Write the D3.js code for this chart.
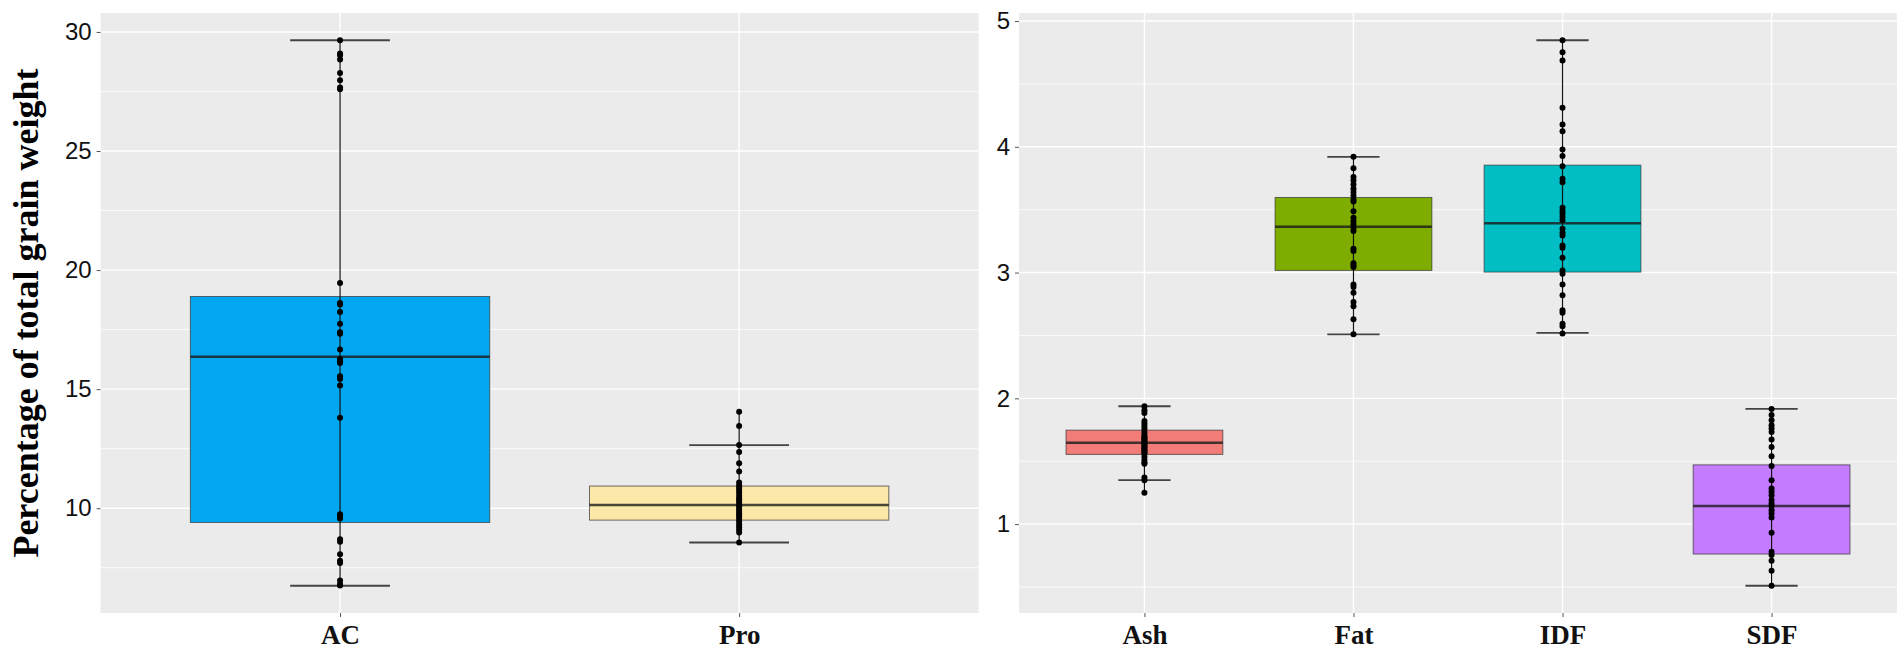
<!DOCTYPE html>
<html>
<head>
<meta charset="utf-8">
<script src="https://cdn.jsdelivr.net/npm/d3@7"></script>
<style>
body { margin: 0; background: #fff; }
</style>
</head>
<body>
<svg id="chart" width="1902" height="651"></svg>
<script>
// left panel: categories and box stats
var leftCats = ['AC', 'Pro']
var leftQ1 = [9.40, 9.50]
var leftMed = [16.36, 10.14]
var leftQ3 = [18.89, 10.93]
var leftLo = [6.745, 8.56]
var leftHi = [29.65, 12.65]
var leftColors = ['#02a7ef', '#fce8a8']
var leftTicks = [10, 15, 20, 25, 30]

var acPts = [29.65, 29.09, 29.02, 28.84, 28.28, 27.97, 27.67, 27.59, 19.46, 18.62, 18.55, 18.24, 17.75, 17.39, 17.33, 16.66, 16.27, 16.17, 16.10, 15.54, 15.43, 15.15, 13.80, 9.75, 9.68, 9.57, 8.70, 8.59, 8.07, 7.79, 7.70, 6.96, 6.82, 6.75]
var proPts = [14.05, 13.45, 12.65, 12.36, 11.89, 11.54, 11.08, 10.95, 10.86, 10.77, 10.65, 10.52, 10.42, 10.33, 10.24, 10.15, 10.06, 9.97, 9.88, 9.79, 9.70, 9.61, 9.52, 9.42, 9.31, 9.20, 9.10, 8.98, 8.56]

// right panel
var rightCats = ['Ash', 'Fat', 'IDF', 'SDF']
var rightQ1 = [1.554, 3.017, 3.004, 0.762]
var rightMed = [1.646, 3.365, 3.393, 1.143]
var rightQ3 = [1.747, 3.597, 3.854, 1.471]
var rightLo = [1.349, 2.509, 2.520, 0.510]
var rightHi = [1.937, 3.920, 4.847, 1.916]
var rightColors = ['#f27d78', '#7ead00', '#00bec4', '#c57bfd']
var rightTicks = [1, 2, 3, 4, 5]

var ashPts = [1.937, 1.905, 1.884, 1.82, 1.80, 1.78, 1.76, 1.74, 1.72, 1.70, 1.69, 1.68, 1.67, 1.66, 1.65, 1.64, 1.63, 1.62, 1.61, 1.60, 1.59, 1.58, 1.57, 1.56, 1.535, 1.51, 1.49, 1.48, 1.371, 1.349, 1.249]
var fatPts = [3.920, 3.830, 3.759, 3.732, 3.70, 3.666, 3.640, 3.613, 3.581, 3.566, 3.488, 3.436, 3.409, 3.383, 3.357, 3.330, 3.190, 3.171, 3.075, 3.057, 3.044, 2.906, 2.885, 2.840, 2.766, 2.732, 2.628, 2.509]
var idfPts = [4.847, 4.752, 4.686, 4.310, 4.177, 4.124, 3.979, 3.926, 3.846, 3.746, 3.719, 3.515, 3.489, 3.468, 3.441, 3.415, 3.349, 3.317, 3.295, 3.216, 3.198, 3.118, 3.017, 2.991, 2.906, 2.819, 2.700, 2.681, 2.594, 2.573, 2.515]
var sdfPts = [1.916, 1.868, 1.826, 1.786, 1.760, 1.733, 1.673, 1.614, 1.540, 1.461, 1.349, 1.283, 1.257, 1.230, 1.191, 1.164, 1.143, 1.111, 1.085, 1.053, 0.931, 0.780, 0.754, 0.709, 0.629, 0.510]

var svg = d3.select('#chart')
var panelTop = 13, panelBottom = 613

function panel(opt) {
  var allPts = d3.merge(opt.pts)
  var ext = d3.extent(allPts.concat(opt.lo, opt.hi))
  var pad = (ext[1] - ext[0]) * 0.05
  var y = d3.scaleLinear().domain([ext[0] - pad, ext[1] + pad]).range([panelBottom, panelTop])
  var x = d3.scalePoint().domain(opt.cats).range([opt.x0, opt.x1]).padding(0.6)
  var step = x.step()

  var g = svg.append('g')
  g.append('rect')
    .attr('x', opt.x0).attr('y', panelTop)
    .attr('width', opt.x1 - opt.x0).attr('height', panelBottom - panelTop)
    .attr('fill', '#ebebeb')

  // minor grid
  var minor = opt.ticks.map(function(t) { return t - opt.tickStep / 2 })
    .concat([opt.ticks[opt.ticks.length - 1] + opt.tickStep / 2])
    .filter(function(v) { return v > y.domain()[0] && v < y.domain()[1] })
  g.selectAll('.minor').data(minor).enter().append('line')
    .attr('x1', opt.x0).attr('x2', opt.x1)
    .attr('y1', function(d) { return y(d) }).attr('y2', function(d) { return y(d) })
    .attr('stroke', '#fff').attr('stroke-width', 0.8)
  g.selectAll('.major').data(opt.ticks).enter().append('line')
    .attr('x1', opt.x0).attr('x2', opt.x1)
    .attr('y1', function(d) { return y(d) }).attr('y2', function(d) { return y(d) })
    .attr('stroke', '#fff').attr('stroke-width', 1.4)
  g.selectAll('.vgrid').data(opt.cats).enter().append('line')
    .attr('x1', function(d) { return x(d) }).attr('x2', function(d) { return x(d) })
    .attr('y1', panelTop).attr('y2', panelBottom)
    .attr('stroke', '#fff').attr('stroke-width', 1.4)

  // y axis
  var yAxis = d3.axisLeft(y).tickValues(opt.ticks).tickFormat(d3.format('d')).tickSize(4).tickPadding(5)
  var ya = g.append('g').attr('transform', 'translate(' + opt.x0 + ',0)').call(yAxis)
  ya.select('.domain').remove()
  ya.selectAll('.tick line').attr('stroke', '#555')
  ya.selectAll('.tick text').attr('fill', '#111')
    .style('font-family', '"Liberation Sans", Arial, sans-serif').style('font-size', '24px')

  // x axis
  var xAxis = d3.axisBottom(x).tickSize(4).tickPadding(8)
  var xa = g.append('g').attr('transform', 'translate(0,' + panelBottom + ')').call(xAxis)
  xa.select('.domain').remove()
  xa.selectAll('.tick line').attr('stroke', '#555')
  xa.selectAll('.tick text').attr('fill', '#111')
    .style('font-family', '"Liberation Serif", "Times New Roman", serif')
    .style('font-weight', 'bold').style('font-size', '27px')

  var bw = step * 0.75, cw = step * 0.25
  opt.cats.forEach(function(c, i) {
    var cx = x(c)
    g.append('rect')
      .attr('x', cx - bw / 2).attr('y', y(opt.q3[i]))
      .attr('width', bw).attr('height', y(opt.q1[i]) - y(opt.q3[i]))
      .attr('fill', opt.colors[i]).attr('stroke', '#333').attr('stroke-opacity', 0.7).attr('stroke-width', 1)
    g.append('line')
      .attr('x1', cx - bw / 2).attr('x2', cx + bw / 2)
      .attr('y1', y(opt.med[i])).attr('y2', y(opt.med[i]))
      .attr('stroke', '#1a1a1a').attr('stroke-opacity', 0.8).attr('stroke-width', 2.5)
    var pe = d3.extent(opt.pts[i])
    g.append('line')
      .attr('x1', cx).attr('x2', cx)
      .attr('y1', y(pe[0])).attr('y2', y(pe[1]))
      .attr('stroke', '#111').attr('stroke-width', 1.2)
    ;[opt.lo[i], opt.hi[i]].forEach(function(v) {
      g.append('line')
        .attr('x1', cx - cw / 2).attr('x2', cx + cw / 2)
        .attr('y1', y(v)).attr('y2', y(v))
        .attr('stroke', '#444').attr('stroke-width', 1.8)
    })
    g.selectAll('.pt' + i).data(opt.pts[i]).enter().append('circle')
      .attr('cx', cx).attr('cy', function(d) { return y(d) })
      .attr('r', 3).attr('fill', '#000')
  })
}

panel({ cats: leftCats, q1: leftQ1, med: leftMed, q3: leftQ3, lo: leftLo, hi: leftHi,
  colors: leftColors, ticks: leftTicks, tickStep: 5, pts: [acPts, proPts], x0: 100.6, x1: 978.6 })
panel({ cats: rightCats, q1: rightQ1, med: rightMed, q3: rightQ3, lo: rightLo, hi: rightHi,
  colors: rightColors, ticks: rightTicks, tickStep: 1, pts: [ashPts, fatPts, idfPts, sdfPts], x0: 1019, x1: 1897 })

svg.append('text')
  .attr('transform', 'translate(38,' + ((panelTop + panelBottom) / 2) + ') rotate(-90)')
  .attr('text-anchor', 'middle')
  .style('font-family', '"Liberation Serif", "Times New Roman", serif')
  .style('font-weight', 'bold').style('font-size', '36px')
  .attr('fill', '#000')
  .text('Percentage of total grain weight')
</script>
</body>
</html>
